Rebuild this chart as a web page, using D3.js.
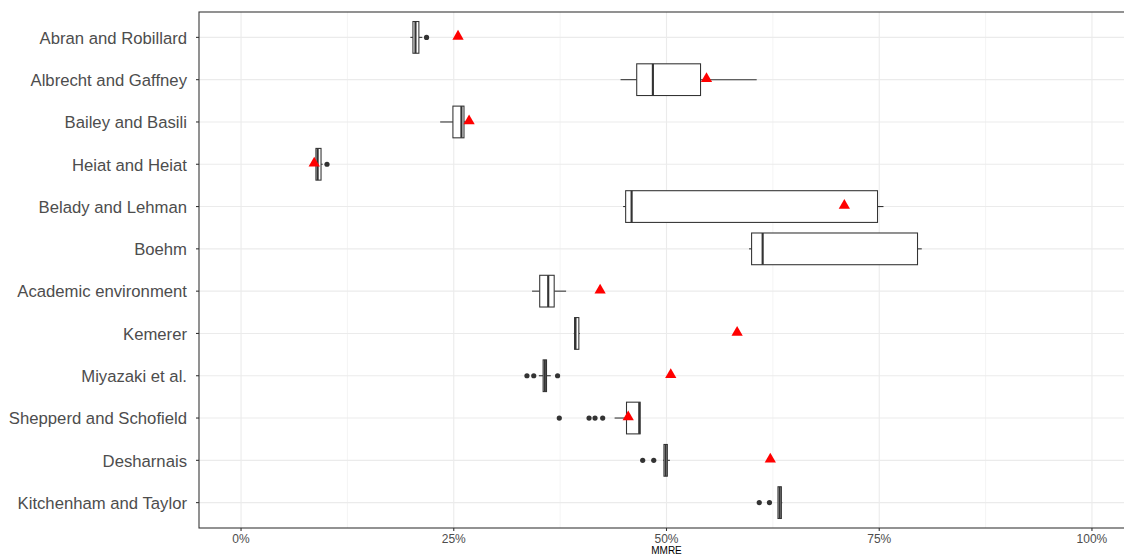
<!DOCTYPE html>
<html>
<head>
<meta charset="utf-8">
<script src="https://cdn.jsdelivr.net/npm/d3@7"></script>
<style>
  html, body { margin: 0; padding: 0; background: #fff; }
  svg { display: block; }
</style>
</head>
<body>
<svg id="chart" width="1124" height="556"></svg>
<script>
const categories = ["Abran and Robillard","Albrecht and Gaffney","Bailey and Basili","Heiat and Heiat","Belady and Lehman","Boehm","Academic environment","Kemerer","Miyazaki et al.","Shepperd and Schofield","Desharnais","Kitchenham and Taylor"];
const whiskerLow  = [0.199, 0.446, 0.234, 0.088, 0.449, 0.597, 0.342, 0.391, 0.350, 0.439, 0.496, 0.631];
const q1          = [0.202, 0.465, 0.249, 0.088, 0.452, 0.600, 0.351, 0.392, 0.355, 0.453, 0.497, 0.631];
const median      = [0.205, 0.484, 0.259, 0.090, 0.459, 0.613, 0.361, 0.393, 0.357, 0.468, 0.499, 0.633];
const q3          = [0.209, 0.540, 0.262, 0.094, 0.748, 0.795, 0.368, 0.397, 0.359, 0.469, 0.501, 0.635];
const whiskerHigh = [0.213, 0.606, 0.264, 0.096, 0.755, 0.800, 0.382, 0.398, 0.364, 0.469, 0.504, 0.636];
const outliers    = [[0.218], [], [], [0.101], [], [], [], [], [0.336, 0.344, 0.372], [0.374, 0.409, 0.416, 0.425], [0.472, 0.485], [0.609, 0.621]];
const means       = [0.255, 0.547, 0.268, 0.086, 0.709, null, 0.422, 0.583, 0.505, 0.455, 0.622, null];
const xTicks      = [0, 0.25, 0.5, 0.75, 1];
const xMinor      = [0.125, 0.375, 0.625, 0.875];

(function () {
const svg = d3.select("#chart");
const pL = 199, pT = 12, pB = 528, pR = 1134;
const x = d3.scaleLinear().domain([-0.05, 1.05]).range([198.5, 1134.5]);
const nCat = categories.length;
const y = d3.scalePoint().domain(categories)
  .range([pT + 0.6 * (pB - pT) / (nCat - 1 + 1.2), pB - 0.6 * (pB - pT) / (nCat - 1 + 1.2)]);
const unit = y.step();
const yc = d => y(d);
const boxH = unit * 0.75;

const g = svg.append("g");

g.selectAll("line.minor").data(xMinor).join("line").attr("class", "minor")
  .attr("x1", d => x(d)).attr("x2", d => x(d)).attr("y1", pT).attr("y2", pB)
  .attr("stroke", "#ebebeb").attr("stroke-width", 0.55);
g.selectAll("line.major").data(xTicks).join("line").attr("class", "major")
  .attr("x1", d => x(d)).attr("x2", d => x(d)).attr("y1", pT).attr("y2", pB)
  .attr("stroke", "#ebebeb").attr("stroke-width", 1.1);
g.selectAll("line.hmaj").data(categories).join("line").attr("class", "hmaj")
  .attr("x1", pL).attr("x2", pR).attr("y1", d => yc(d)).attr("y2", d => yc(d))
  .attr("stroke", "#ebebeb").attr("stroke-width", 1.1);

const data = categories.map((c, i) => ({c, lo: whiskerLow[i], q1: q1[i], med: median[i], q3: q3[i], hi: whiskerHigh[i], out: outliers[i], mean: means[i]}));

const bx = g.selectAll("g.box").data(data).join("g").attr("class", "box");
bx.append("line").attr("x1", d => x(d.lo)).attr("x2", d => x(d.q1))
  .attr("y1", d => yc(d.c)).attr("y2", d => yc(d.c)).attr("stroke", "#333").attr("stroke-width", 1.07);
bx.append("line").attr("x1", d => x(d.q3)).attr("x2", d => x(d.hi))
  .attr("y1", d => yc(d.c)).attr("y2", d => yc(d.c)).attr("stroke", "#333").attr("stroke-width", 1.07);
bx.append("rect").attr("x", d => x(d.q1)).attr("width", d => Math.max(0, x(d.q3) - x(d.q1)))
  .attr("y", d => yc(d.c) - boxH / 2).attr("height", boxH)
  .attr("fill", "#fff").attr("stroke", "#333").attr("stroke-width", 1.07);
bx.append("line").attr("x1", d => x(d.med)).attr("x2", d => x(d.med))
  .attr("y1", d => yc(d.c) - boxH / 2).attr("y2", d => yc(d.c) + boxH / 2)
  .attr("stroke", "#333").attr("stroke-width", 2.13);
bx.each(function (d) {
  d3.select(this).selectAll("circle").data(d.out).join("circle")
    .attr("cx", v => x(v)).attr("cy", yc(d.c)).attr("r", 2.6).attr("fill", "#333");
});
const tri = d3.symbol().type(d3.symbolTriangle).size(55);
g.selectAll("path.mean").data(data.filter(d => d.mean != null)).join("path").attr("class", "mean")
  .attr("d", tri).attr("transform", d => `translate(${x(d.mean)},${yc(d.c) - 1})`)
  .attr("fill", "#ff0000");

g.append("rect").attr("x", pL).attr("y", pT).attr("width", pR - pL).attr("height", pB - pT)
  .attr("fill", "none").attr("stroke", "#333").attr("stroke-width", 1.07);

g.selectAll("line.ytick").data(categories).join("line").attr("class", "ytick")
  .attr("x1", pL - 3).attr("x2", pL).attr("y1", d => yc(d)).attr("y2", d => yc(d))
  .attr("stroke", "#333").attr("stroke-width", 1.07);
g.selectAll("text.ylab").data(categories).join("text").attr("class", "ylab")
  .attr("x", pL - 12).attr("y", d => yc(d) + 0.5).attr("dy", "0.35em")
  .attr("text-anchor", "end").attr("fill", "#4d4d4d")
  .style("font-family", "'Liberation Sans', Arial, sans-serif").style("font-size", "16.7px")
  .text(d => d);

g.selectAll("line.xtick").data(xTicks).join("line").attr("class", "xtick")
  .attr("x1", d => x(d)).attr("x2", d => x(d)).attr("y1", pB).attr("y2", pB + 3)
  .attr("stroke", "#333").attr("stroke-width", 1.07);
g.selectAll("text.xlab").data(xTicks).join("text").attr("class", "xlab")
  .attr("x", d => x(d)).attr("y", pB + 15)
  .attr("text-anchor", "middle").attr("fill", "#4d4d4d")
  .style("font-family", "'Liberation Sans Narrow', 'Liberation Sans', Arial, sans-serif").style("font-size", "12px")
  .text(d => d3.format(".0%")(d));
g.append("text").attr("x", x(0.5)).attr("y", pB + 26)
  .attr("text-anchor", "middle").attr("fill", "#000")
  .style("font-family", "'Liberation Sans Narrow', 'Liberation Sans', Arial, sans-serif").style("font-size", "10px")
  .text("MMRE");
})();
</script>
</body>
</html>
